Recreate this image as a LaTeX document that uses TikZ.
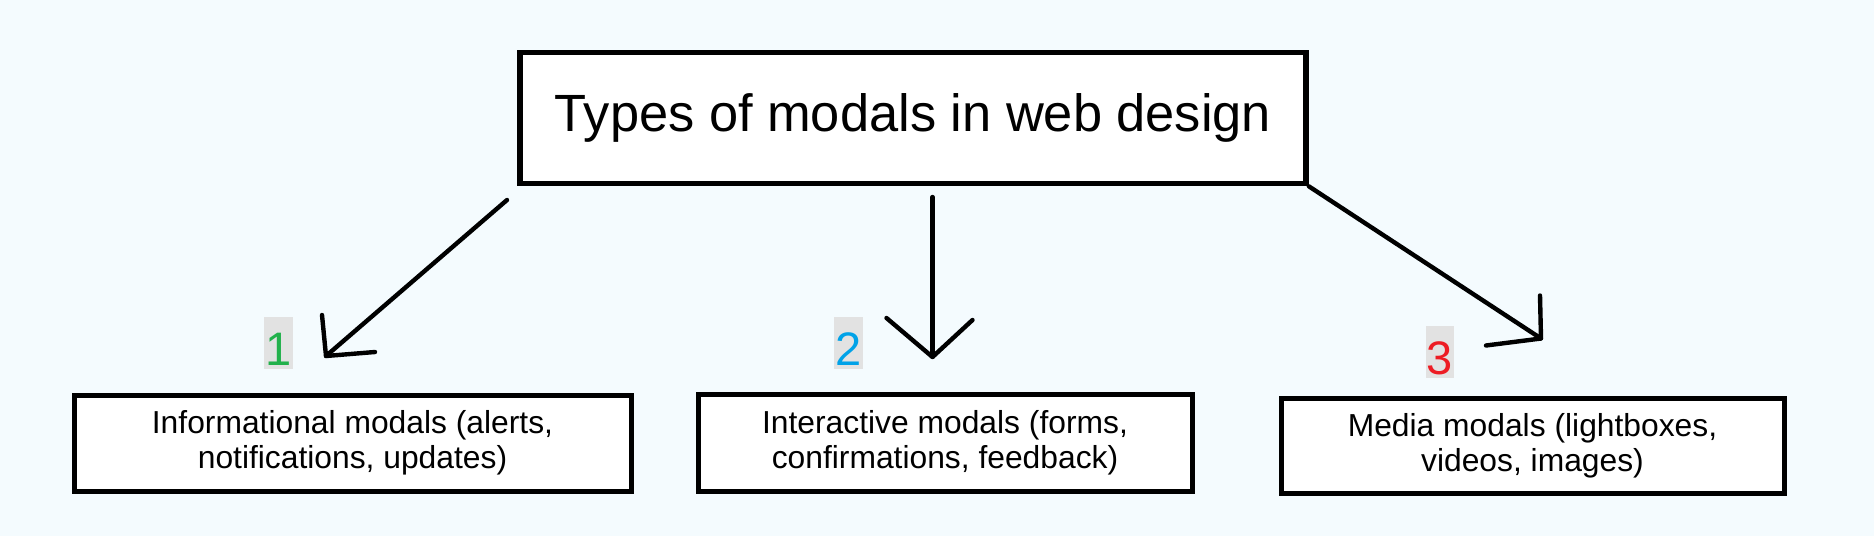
\documentclass[tikz,border=0pt]{standalone}
\usepackage{fontspec}
\setmainfont{Liberation Sans}
\usepackage{xcolor}
\usetikzlibrary{positioning}

\definecolor{bgcol}{RGB}{244,251,254}
\definecolor{numgray}{RGB}{226,226,226}
\definecolor{numgreen}{RGB}{34,177,76}
\definecolor{numblue}{RGB}{0,162,232}
\definecolor{numred}{RGB}{237,28,36}

\tikzset{
  titlebox/.style={draw, line width=2.8pt, fill=white, inner sep=0pt,
    minimum width=393pt, minimum height=65.5pt,
    font=\fontsize{26.2}{31}\selectfont},
  typebox/.style={draw, line width=2.5pt, fill=white, inner sep=0pt,
    align=center, font=\fontsize{15.9}{17.5}\selectfont},
  numlabel/.style={fill=numgray, inner xsep=0.5pt, inner ysep=0pt,
    text height=24pt, text depth=2pt, anchor=base,
    font=\fontsize{23.5}{26}\selectfont},
  hand/.style={line width=2.2pt, line cap=round, line join=round}
}

\begin{document}
\begin{tikzpicture}[x=0.5pt, y=-0.5pt]
            \fill[bgcol] (0,0) rectangle (1874,536);

            \node[titlebox] (title) at (913,118) {Types of modals in web design};

            \node[typebox, minimum width=278.5pt, minimum height=48pt] (info) at (352.5,443)
                {Informational modals (alerts,\\notifications, updates)};
            \node[typebox, minimum width=247pt, minimum height=48.5pt] (inter) at (945,442.5)
                {Interactive modals (forms,\\confirmations, feedback)};
            \node[typebox, minimum width=251.5pt, minimum height=47.5pt] (media) at (1532.5,445.5)
                {Media modals (lightboxes,\\videos, images)};

            \node[numlabel, text=numgreen] (n1) at (278.5,365) {1};
            \node[numlabel, text=numblue] (n2) at (848.5,365) {2};
            \node[numlabel, text=numred] (n3) at (1440,374) {3};

            % hand drawn arrows
            \coordinate (s1) at (507,200);
            \coordinate (t1) at (326,356);
            \draw[hand] (s1) -- (t1);
            \draw[hand] (t1) ++(-4,-41) -- (t1) -- ++(49,-4);

            \coordinate (s2) at (932.5,197);
            \coordinate (t2) at (932.5,357);
            \draw[hand] (s2) -- (t2);
            \draw[hand] (t2) ++(-46,-39) -- (t2) -- ++(40,-37);

            \coordinate (t3) at (1541,338.5);
            \draw[hand] (title.south east) -- (t3);
            \draw[hand] (t3) ++(-1,-43) -- (t3) -- ++(-55,7);
        \end{tikzpicture}
\end{document}
